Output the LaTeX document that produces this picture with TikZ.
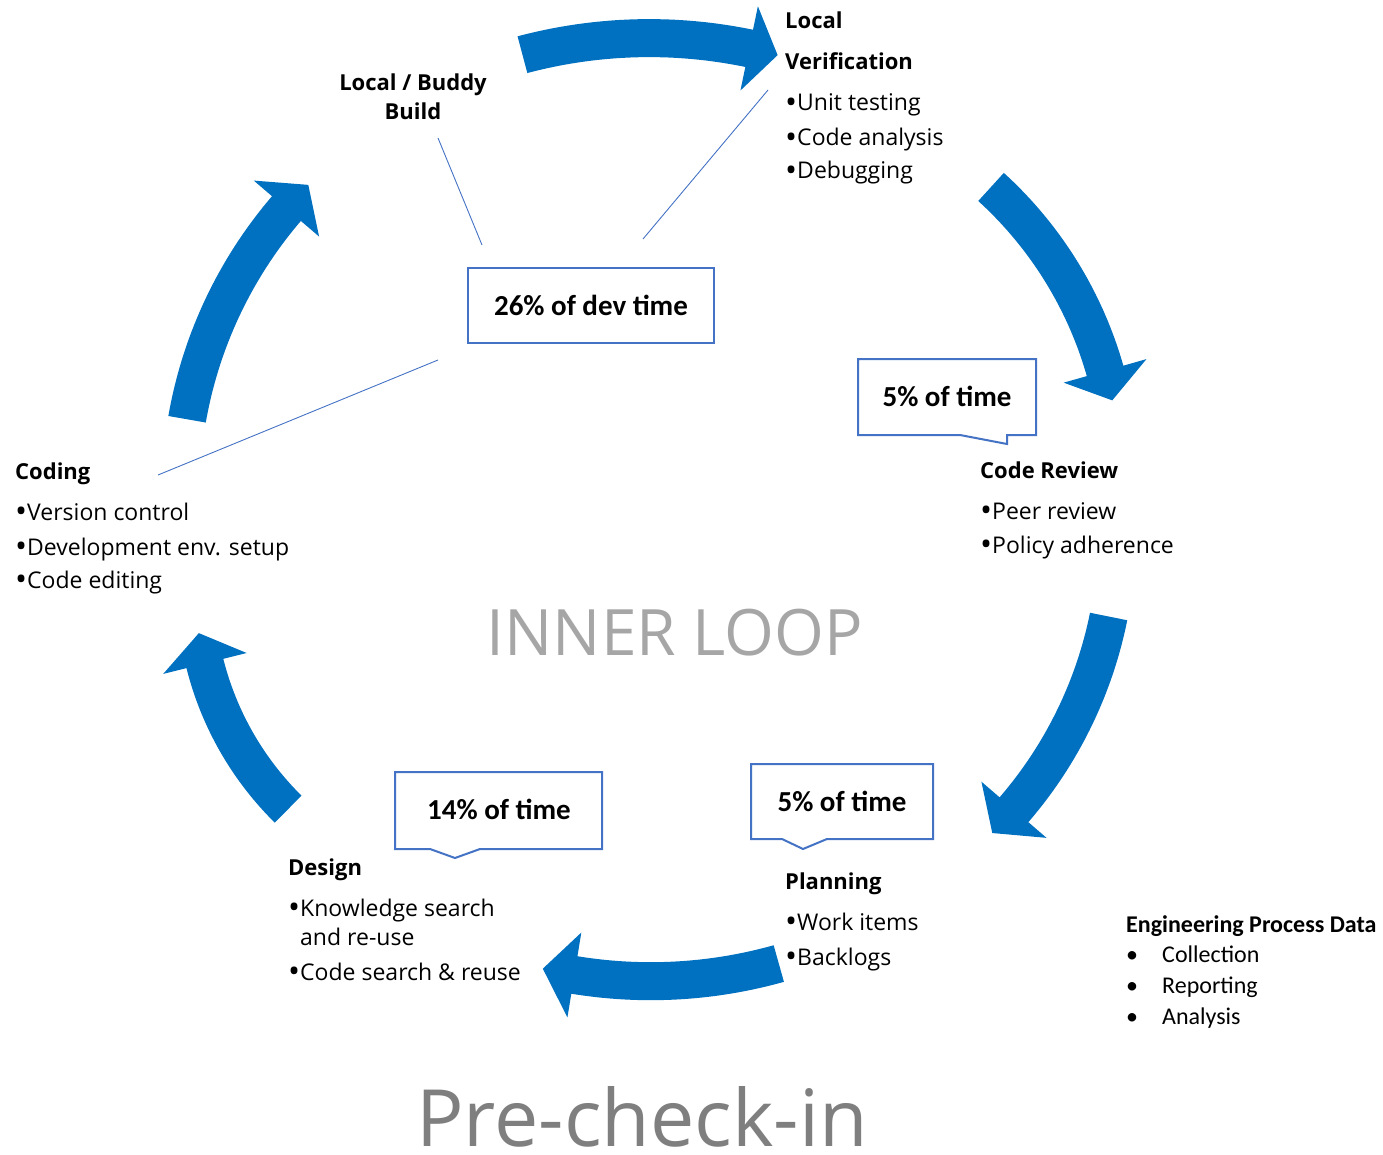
\documentclass[tikz,border=0pt]{standalone}
\usepackage{fontspec}
\setmainfont{Open Sans}
\newfontfamily\calib{Carlito}
\definecolor{arrowblue}{HTML}{0070C0}
\definecolor{boxblue}{HTML}{4472C4}
\definecolor{loopgray}{HTML}{A6A6A6}
\definecolor{pregray}{HTML}{7F7F7F}

% curved block arrow along a circle:
% {cx}{cy}{radius}{tail angle}{head base angle}{tip angle}
\newcommand\flowarrow[6]{%
  \fill[flow]
    plot[domain=#4:#5, samples=40] ({#1+(#3+19)*cos(\x)},{#2+(#3+19)*sin(\x)})
    -- ({#1+(#3+43)*cos(#5)},{#2+(#3+43)*sin(#5)})
    -- ({#1+#3*cos(#6)},{#2+#3*sin(#6)})
    -- ({#1+(#3-43)*cos(#5)},{#2+(#3-43)*sin(#5)})
    -- plot[domain=#5:#4, samples=40] ({#1+(#3-19)*cos(\x)},{#2+(#3-19)*sin(\x)})
    -- cycle;}
% larger list bullet
\newcommand\blt{{\fontsize{32}{32}\selectfont\raisebox{-2.6pt}{•}}}

\begin{document}
\begin{tikzpicture}[x=1pt,y=-1pt,
  flow/.style={fill=arrowblue, draw=none},
  callout/.style={draw=boxblue, line width=2pt, fill=white, line join=miter},
  leader/.style={draw=boxblue, line width=0.9pt},
  head/.style={font=\fontsize{22}{26}\selectfont\bfseries, anchor=base west, inner sep=0pt},
  item/.style={font=\fontsize{23}{27}\selectfont, anchor=base west, inner sep=0pt},
  pct/.style={font=\calib\fontsize{29}{33}\selectfont\bfseries, inner sep=0pt},
  epd/.style={font=\calib\fontsize{24}{28}\selectfont, anchor=base west, inner sep=0pt},
]
\useasboundingbox (0,0) rectangle (1383,1155);

% ---- curved flow arrows around the loop ----
\flowarrow{649.2}{531.1}{493}{-104.9}{-78.3}{-74.9}  % Build -> Local Verification
\flowarrow{725.2}{479.1}{395}{-47.7}{-15.9}{-11.5}   % Local Verification -> Code Review
\flowarrow{693.0}{532.7}{424}{11.4}{40.8}{45.1}      % Code Review -> Planning
\flowarrow{650.8}{508.2}{473}{74.3}{99.3}{103.2}     % Planning -> Design
\flowarrow{506.5}{587.7}{311}{134.6}{165.9}{171.6}   % Design -> Coding
\flowarrow{620.5}{494.9}{440}{-170.1}{-139.4}{-135.2} % Coding -> Build

% ---- leader lines from the 26% box ----
\coordinate (lbA) at (438,138);
\coordinate (lbB) at (482,245);
\coordinate (lvA) at (768,90);
\coordinate (lvB) at (643,239);
\coordinate (lcA) at (438,360);
\coordinate (lcB) at (158,475);
\draw[leader] (lbA) -- (lbB);
\draw[leader] (lvA) -- (lvB);
\draw[leader] (lcA) -- (lcB);

% ---- time callouts ----
\draw[callout] (468,268) rectangle (714,343);
\node[pct] (t26) at (591,305) {26\% of dev time};

\draw[callout] (858,359) -- (1036,359) -- (1036,435) -- (1007,435) -- (1007,444)
  -- (960,435) -- (858,435) -- cycle;
\node[pct] (t5a) at (947,396) {5\% of time};

\draw[callout] (751,764) -- (933,764) -- (933,839) -- (827,839) -- (803,849)
  -- (782,839) -- (751,839) -- cycle;
\node[pct] (t5b) at (842,801) {5\% of time};

\draw[callout] (395,772) -- (602,772) -- (602,849) -- (480,849) -- (455,858)
  -- (430,849) -- (395,849) -- cycle;
\node[pct] (t14) at (499,809) {14\% of time};

% ---- stage labels ----
\node[font=\fontsize{22}{29}\selectfont\bfseries, align=center, inner sep=0pt] (build) at (413,97) {Local / Buddy\\Build};

\node[head] (lv1) at (785,29) {Local};
\node[head] (lv2) at (785,70) {Verification};
\node[item] (lv3) at (785,111) {\blt Unit testing};
\node[item] (lv4) at (785,146) {\blt Code analysis};
\node[item] (lv5) at (785,179) {\blt Debugging};

\node[head] (cr1) at (980,478) {Code Review};
\node[item] (cr2) at (980,519) {\blt Peer review};
\node[item] (cr3) at (980,553) {\blt Policy adherence};

\node[head] (cd1) at (15,479) {Coding};
\node[item] (cd2) at (15,520) {\blt Version control};
\node[item] (cd3) at (15,555) {\blt Development env. setup};
\node[item] (cd4) at (15,588) {\blt Code editing};

\node[head] (ds1) at (288,875) {Design};
\node[item] (ds2) at (288,916) {\blt Knowledge search};
\node[item] (ds3) at (300,945) {and re-use};
\node[item] (ds4) at (288,980) {\blt Code search \& reuse};

\node[head] (pl1) at (785,889) {Planning};
\node[item] (pl2) at (785,930) {\blt Work items};
\node[item] (pl3) at (785,965) {\blt Backlogs};

% ---- engineering process data ----
\node[epd, font=\calib\fontsize{24}{28}\selectfont\bfseries] (ep0) at (1126,932) {Engineering Process Data};
\node[epd] (epb1) at (1126,962) {•};
\node[epd] (ep1) at (1162,962) {Collection};
\node[epd] (epb2) at (1126,993) {•};
\node[epd] (ep2) at (1162,993) {Reporting};
\node[epd] (epb3) at (1126,1024) {•};
\node[epd] (ep3) at (1162,1024) {Analysis};

% ---- titles ----
\node[font=\fontsize{64}{68}\selectfont, text=loopgray, anchor=base, inner sep=0pt] (inner) at (675,655) {INNER LOOP};
\node[font=\fontsize{79}{84}\selectfont, text=pregray, anchor=base, inner sep=0pt, text depth=0pt] (pre) at (642,1146) {Pre-check-in};
\end{tikzpicture}
\end{document}
